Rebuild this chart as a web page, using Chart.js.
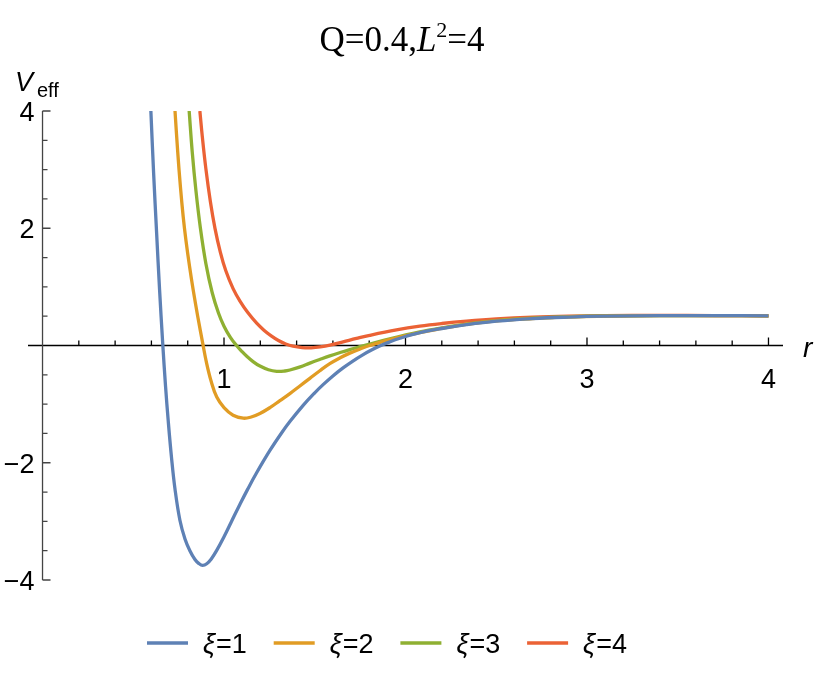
<!DOCTYPE html>
<html>
<head>
<meta charset="utf-8">
<script src="https://cdn.jsdelivr.net/npm/chart.js@4/dist/chart.umd.min.js"></script>
<style>
html, body { margin: 0; padding: 0; background: #fff; }
</style>
</head>
<body>
<canvas id="grafico" width="817" height="679"></canvas>
<script>
// valores (r, V_eff) para cada xi
const legendas = ['ξ=1', 'ξ=2', 'ξ=3', 'ξ=4'];

const r1 = [0.597, 0.612, 0.629, 0.645, 0.662, 0.678, 0.693, 0.711, 0.73, 0.757, 0.785, 0.812, 0.84, 0.862, 0.882, 0.905, 0.93, 0.959, 1.0, 1.04, 1.088, 1.13, 1.179, 1.253, 1.317, 1.363, 1.436, 1.5, 1.546, 1.6, 1.656, 1.71, 1.767, 1.81, 1.858, 1.91, 1.969, 2.079, 2.2, 2.336, 2.5, 2.7, 2.9, 3.1, 3.4, 3.7, 4.0];
const v1 = [4.0, 2.95, 1.9, 0.95, 0.05, -0.7, -1.3, -1.92, -2.45, -2.98, -3.3, -3.5, -3.65, -3.72, -3.75, -3.722, -3.64, -3.50, -3.262, -3.01, -2.708, -2.454, -2.175, -1.79, -1.492, -1.298, -1.021, -0.807, -0.668, -0.519, -0.382, -0.265, -0.155, -0.082, -0.01, 0.058, 0.123, 0.219, 0.29, 0.355, 0.415, 0.46, 0.485, 0.50, 0.51, 0.51, 0.507];

const r2 = [0.73, 0.745, 0.76, 0.775, 0.79, 0.81, 0.83, 0.855, 0.882, 0.904, 0.93, 0.96, 1.0, 1.05, 1.106, 1.15, 1.198, 1.253, 1.308, 1.363, 1.418, 1.473, 1.528, 1.583, 1.64, 1.693, 1.75, 1.803, 1.913, 2.079, 2.2, 2.336, 2.5, 2.7, 2.9, 3.1, 3.4, 3.7, 4.0];
const v2 = [4.0, 3.3, 2.7, 2.2, 1.8, 1.35, 0.95, 0.5, 0.05, -0.3, -0.62, -0.88, -1.06, -1.19, -1.24, -1.22, -1.16, -1.06, -0.94, -0.82, -0.69, -0.56, -0.43, -0.31, -0.21, -0.13, -0.06, 0.0, 0.10, 0.22, 0.29, 0.36, 0.42, 0.46, 0.488, 0.50, 0.51, 0.51, 0.507];

const r3 = [0.808, 0.825, 0.845, 0.87, 0.9, 0.935, 0.97, 1.0, 1.035, 1.069, 1.1, 1.124, 1.16, 1.198, 1.245, 1.29, 1.335, 1.363, 1.42, 1.473, 1.53, 1.583, 1.64, 1.693, 1.75, 1.803, 1.913, 2.079, 2.2, 2.336, 2.5, 2.7, 2.9, 3.1, 3.4, 3.7, 4.0];
const v3 = [4.0, 3.3, 2.65, 2.0, 1.4, 0.9, 0.55, 0.33, 0.14, 0.0, -0.106, -0.18, -0.274, -0.351, -0.413, -0.44, -0.435, -0.418, -0.365, -0.30, -0.235, -0.177, -0.12, -0.07, -0.02, 0.025, 0.115, 0.232, 0.30, 0.365, 0.425, 0.465, 0.49, 0.503, 0.51, 0.51, 0.507];

const r4 = [0.867, 0.88, 0.9, 0.925, 0.95, 0.98, 1.01, 1.05, 1.088, 1.13, 1.18, 1.22, 1.26, 1.30, 1.34, 1.38, 1.43, 1.48, 1.53, 1.59, 1.656, 1.73, 1.803, 1.95, 2.079, 2.2, 2.336, 2.5, 2.7, 2.9, 3.1, 3.4, 3.7, 4.0];
const v4 = [4.0, 3.576, 3.017, 2.451, 2.003, 1.588, 1.274, 0.97, 0.757, 0.566, 0.381, 0.262, 0.165, 0.086, 0.027, -0.011, -0.035, -0.039, -0.025, 0.01, 0.061, 0.12, 0.174, 0.266, 0.33, 0.375, 0.415, 0.452, 0.482, 0.50, 0.51, 0.513, 0.511, 0.507];

const xTicks = [1, 2, 3, 4];
const xTickLabels = ['1', '2', '3', '4'];
const yTicks = [-4, -2, 2, 4];
const yTickLabels = ['−4', '−2', '2', '4'];

const cores = ['#5E81B5', '#E19C24', '#8FB032', '#EB6235'];

function pontos(rs, vs) {
	return rs.map((r, i) => ({ x: r, y: vs[i] }));
}

const series = [[r1, v1], [r2, v2], [r3, v3], [r4, v4]];

const eixos = {
	id: 'eixos',
	beforeDatasetsDraw(chart) {
		const ctx = chart.ctx;
		const sx = chart.scales.x;
		const sy = chart.scales.y;
		const area = chart.chartArea;
		const x0 = sx.getPixelForValue(0);
		const y0 = sy.getPixelForValue(0);

		ctx.save();
		ctx.lineWidth = 1.3;

		// eixo x
		ctx.strokeStyle = '#000';
		ctx.beginPath();
		ctx.moveTo(area.left, y0);
		ctx.lineTo(area.right, y0);
		for (let i = 1; i <= 20; i++) {
			const px = sx.getPixelForValue(i * 0.2);
			const len = (i % 5 === 0) ? 8 : 5;
			ctx.moveTo(px, y0);
			ctx.lineTo(px, y0 - len);
		}
		ctx.stroke();

		// eixo y
		ctx.strokeStyle = '#444';
		ctx.beginPath();
		ctx.moveTo(x0, sy.getPixelForValue(4));
		ctx.lineTo(x0, sy.getPixelForValue(-4));
		for (let i = -8; i <= 8; i++) {
			if (i === 0) continue;
			const py = sy.getPixelForValue(i * 0.5);
			const len = (i % 4 === 0) ? 8 : 5;
			ctx.moveTo(x0, py);
			ctx.lineTo(x0 + len, py);
		}
		ctx.stroke();

		// rotulos
		ctx.fillStyle = '#000';
		ctx.font = '27px "Liberation Sans", Arial, sans-serif';
		ctx.textAlign = 'center';
		ctx.textBaseline = 'alphabetic';
		xTicks.forEach((v, i) => {
			ctx.fillText(xTickLabels[i], sx.getPixelForValue(v), y0 + 42);
		});
		ctx.textAlign = 'right';
		yTicks.forEach((v, i) => {
			ctx.fillText(yTickLabels[i], x0 - 8, sy.getPixelForValue(v) + 10);
		});

		// V_eff e r
		ctx.textAlign = 'left';
		ctx.font = 'italic 27px "Liberation Sans", Arial, sans-serif';
		ctx.fillText('V', 15, 91);
		ctx.font = '20px "Liberation Sans", Arial, sans-serif';
		ctx.fillText('eff', 37, 97);
		ctx.font = 'italic 28px "Liberation Sans", Arial, sans-serif';
		ctx.fillText('r', 803, 357);

		// titulo
		const partes = [
			{ t: 'Q=0.4,', f: '35px "Liberation Serif", serif', dy: 0 },
			{ t: 'L', f: 'italic 35px "Liberation Serif", serif', dy: 0 },
			{ t: '2', f: '22px "Liberation Serif", serif', dy: -14 },
			{ t: '=4', f: '35px "Liberation Serif", serif', dy: 0 }
		];
		let total = 0;
		partes.forEach(p => { ctx.font = p.f; p.w = ctx.measureText(p.t).width; total += p.w; });
		let tx = 402 - total / 2;
		partes.forEach(p => {
			ctx.font = p.f;
			ctx.fillText(p.t, tx, 51 + p.dy);
			tx += p.w;
		});

		// legenda
		legendas.forEach((nome, i) => {
			const lx = 147 + i * 126.7;
			ctx.strokeStyle = cores[i];
			ctx.lineWidth = 3.3;
			ctx.beginPath();
			ctx.moveTo(lx, 643);
			ctx.lineTo(lx + 41, 643);
			ctx.stroke();
			ctx.fillStyle = '#000';
			ctx.font = 'italic 27px "Liberation Sans", Arial, sans-serif';
			ctx.fillText(nome.charAt(0), lx + 56, 653);
			const w = ctx.measureText(nome.charAt(0)).width;
			ctx.font = '27px "Liberation Sans", Arial, sans-serif';
			ctx.fillText(nome.slice(1), lx + 56 + w + 1, 653);
		});

		ctx.restore();
	}
};

const ctx = document.getElementById('grafico').getContext('2d');
const myChart = new Chart(ctx, {
	type: 'scatter',
	data: {
		datasets: series.map((s, i) => ({
			label: legendas[i],
			data: pontos(s[0], s[1]),
			showLine: true,
			borderColor: cores[i],
			backgroundColor: cores[i],
			borderWidth: 3.3,
			pointRadius: 0,
			tension: 0.4,
			clip: 0
		}))
	},
	options: {
		responsive: false,
		devicePixelRatio: 1,
		animation: false,
		layout: {
			padding: { left: 28, right: 34, top: 111, bottom: 99 }
		},
		plugins: {
			legend: { display: false },
			title: { display: false },
			tooltip: { enabled: false }
		},
		scales: {
			x: { type: 'linear', min: -0.08, max: 4.08, display: false },
			y: { type: 'linear', min: -4, max: 4, display: false }
		}
	},
	plugins: [eixos]
});
</script>
</body>
</html>
